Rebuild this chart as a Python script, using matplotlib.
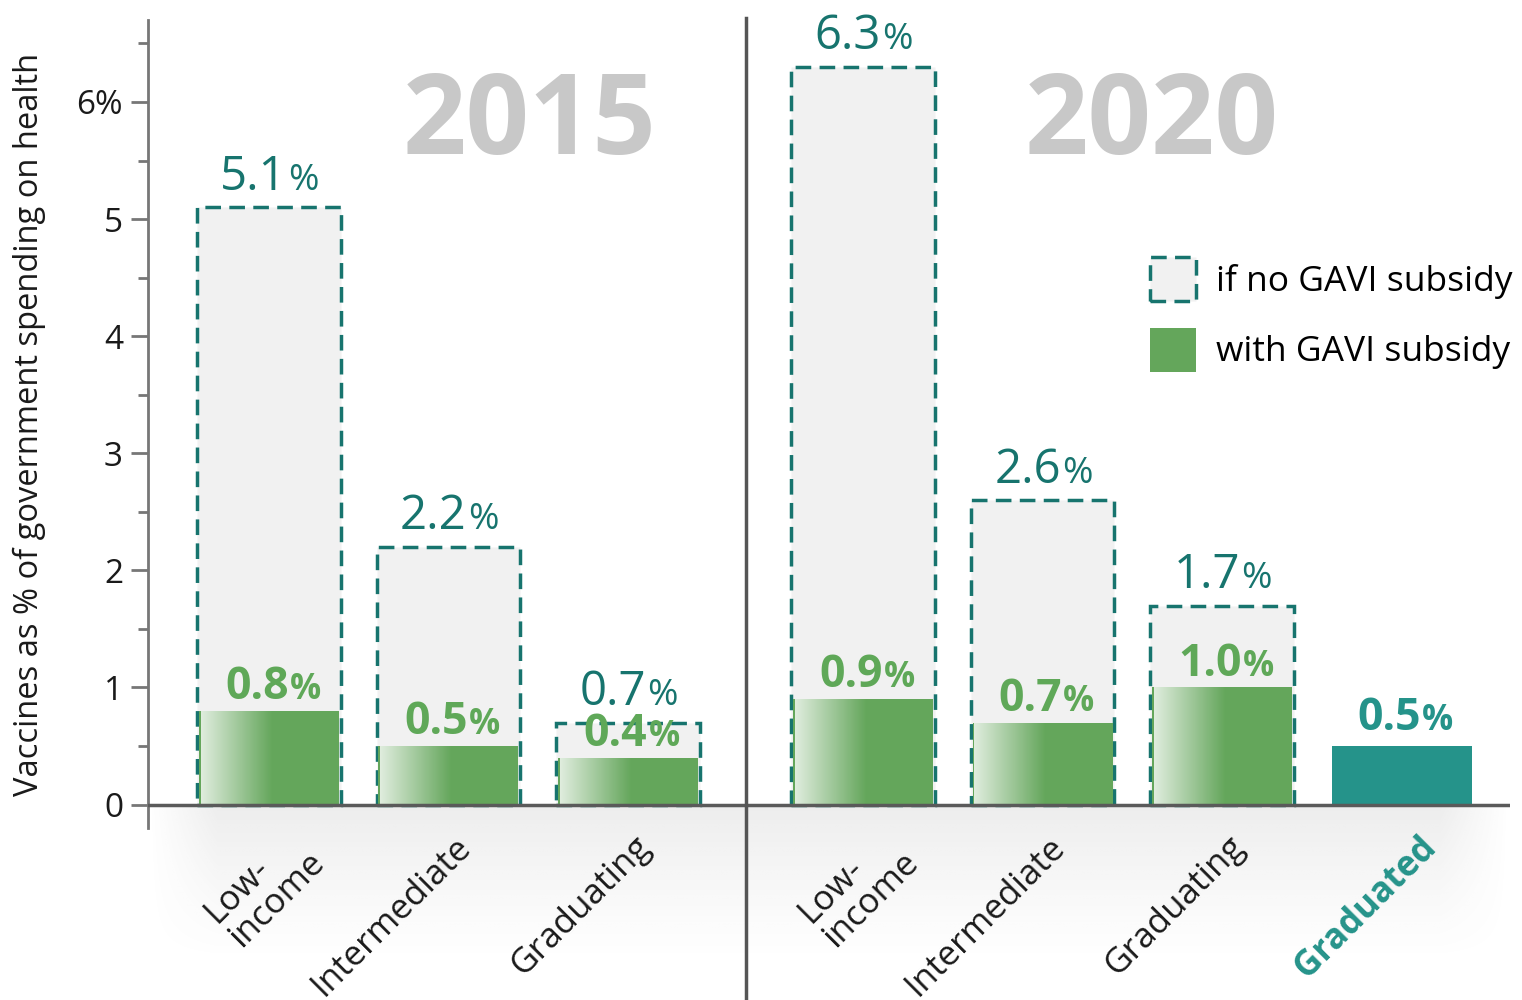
import numpy as np
import matplotlib
matplotlib.use("Agg")
import matplotlib.pyplot as plt
from matplotlib.patches import Patch

plt.rcParams['font.family'] = ['Open Sans', 'DejaVu Sans']

# data
categories_2015 = ['Low-\nincome', 'Intermediate', 'Graduating']
categories_2020 = ['Low-\nincome', 'Intermediate', 'Graduating', 'Graduated']
no_subsidy_2015 = [5.1, 2.2, 0.7]
with_subsidy_2015 = [0.8, 0.5, 0.4]
no_subsidy_2020 = [6.3, 2.6, 1.7]
with_subsidy_2020 = [0.9, 0.7, 1.0]
graduated_2020 = 0.5
years = ['2015', '2020']
ytick_values = [0, 1, 2, 3, 4, 5, 6]
ytick_labels = ['0', '1', '2', '3', '4', '5', '6%']

TEAL = '#17746e'
TEAL_BAR = '#25938a'
GREEN = '#64a65b'
GREEN_TXT = '#5fa858'
BOX_FILL = '#f1f1f1'
DASH = (0, (4.5, 2.4))

fig = plt.figure(figsize=(15.22, 10), dpi=100)
ax = fig.add_axes([148 / 1522, 1 - 828 / 1000, (1510 - 148) / 1522, (828 - 20) / 1000])

x2015 = np.arange(3, dtype=float)
x2020 = 3.31 + np.arange(4, dtype=float)
width = 0.8
xmin, xmax = -0.674, 6.914
ymin, ymax = -0.2, 6.7

# soft shadow under the baseline
t = np.linspace(0, 1, 200)[:, None]
h = np.linspace(0, 1, 400)[None, :]
hfade = np.clip(h / 0.05, 0, 1) * np.clip((1 - h) / 0.05, 0, 1)
shadow = np.zeros((200, 400, 4))
shadow[..., :3] = 0.4
shadow[..., 3] = 0.12 * (1 - t) ** 1.2 * hfade
ax.imshow(shadow, extent=(xmin, xmax, -1.35, 0), aspect='auto', origin='upper',
          zorder=0, clip_on=False, interpolation='bilinear')


def green_gradient(x, height):
    left = x - width / 2
    g = np.zeros((2, 100, 4))
    g[..., :3] = 1.0
    g[..., 3] = np.linspace(0.8, 0.0, 100)[None, :]
    ax.imshow(g, extent=(left + 0.02, left + 0.42, 0, height), aspect='auto',
              zorder=3.5, interpolation='bilinear')


def pct_label(x, y, num, color, bold, size, split):
    w = 'bold' if bold else 'normal'
    ax.annotate(num, (x, y), xytext=(split, 0), textcoords='offset points',
                ha='right', va='baseline', fontsize=size, color=color, fontweight=w, zorder=6)
    ax.annotate('%', (x, y), xytext=(split + 0.8, 0), textcoords='offset points',
                ha='left', va='baseline', fontsize=size * 0.78, color=color, fontweight=w, zorder=6)


for xs, nos, withs in [(x2015, no_subsidy_2015, with_subsidy_2015),
                       (x2020[:3], no_subsidy_2020, with_subsidy_2020)]:
    ax.bar(xs, nos, width=width, color=BOX_FILL, edgecolor=TEAL, linewidth=2.5,
           linestyle=DASH, zorder=2)
    ax.bar(xs, withs, width=width - 0.02, color=GREEN, linewidth=0, zorder=3)
    for x, n, w in zip(xs, nos, withs):
        green_gradient(x, w)
        pct_label(x, n + 0.15, f'{n:.1f}', TEAL, False, 34, 13)
        pct_label(x, w + 0.1, f'{w:.1f}', GREEN_TXT, True, 32, 14)

ax.bar(x2020[3], graduated_2020, width=width - 0.02, color=TEAL_BAR, linewidth=0, zorder=3)
pct_label(x2020[3], graduated_2020 + 0.14, f'{graduated_2020:.1f}', TEAL_BAR, True, 32, 14)

# year headings
ax.text(1.454, 5.8, years[0], ha='center', va='center', fontsize=80,
        fontweight='bold', color='#c8c8c8', zorder=1)
ax.text(4.92, 5.8, years[1], ha='center', va='center', fontsize=80,
        fontweight='bold', color='#c8c8c8', zorder=1)

# baseline and divider
ax.axhline(0, color='#5a5a5a', lw=2.5, zorder=5)
ax.plot([2.655, 2.655], [-1.65, 6.72], color='#555555', lw=2.5, zorder=5, clip_on=False)

# category labels
for xs, cats in [(x2015, categories_2015), (x2020, categories_2020)]:
    for x, c in zip(xs, cats):
        grad = c == 'Graduated'
        off = (10, -12) if '\n' in c else (4, -18)
        if grad:
            off = (12, -18)
        ax.annotate(c, (x, 0), xytext=off, textcoords='offset points',
                    rotation=45, rotation_mode='anchor', ha='right', va='top',
                    multialignment='left', fontsize=25, linespacing=1.0,
                    color=TEAL_BAR if grad else '#1a1a1a',
                    fontweight='bold' if grad else 'normal')

# axes styling
ax.set_xlim(xmin, xmax)
ax.set_ylim(ymin, ymax)
for s in ['top', 'right', 'bottom']:
    ax.spines[s].set_visible(False)
ax.spines['left'].set_color('#777777')
ax.spines['left'].set_linewidth(2)
ax.set_xticks([])
ax.set_yticks(ytick_values, ytick_labels)
ax.set_yticks(np.arange(0.5, 6.6, 1.0), minor=True)
ax.tick_params(axis='y', which='major', length=12, width=2, color='#777777',
               labelsize=24, labelcolor='#1a1a1a', pad=6)
ax.tick_params(axis='y', which='minor', length=7, width=2, color='#777777')
ax.set_ylabel('Vaccines as % of government spending on health', fontsize=23.5,
              color='#1a1a1a')
ax.yaxis.set_label_coords(-0.075, 0.5)
ax.patch.set_alpha(0)

handles = [Patch(facecolor=BOX_FILL, edgecolor=TEAL, linestyle=DASH, linewidth=2.5),
           Patch(facecolor=GREEN, edgecolor='none')]
ax.legend(handles, ['if no GAVI subsidy', 'with GAVI subsidy'], loc='upper left',
          bbox_to_anchor=(0.7357, 0.707), frameon=False, fontsize=25.5,
          handlelength=1.3, handleheight=1.55, handletextpad=0.55, labelspacing=0.75,
          borderpad=0, borderaxespad=0)

plt.savefig('out.png', dpi=100)
